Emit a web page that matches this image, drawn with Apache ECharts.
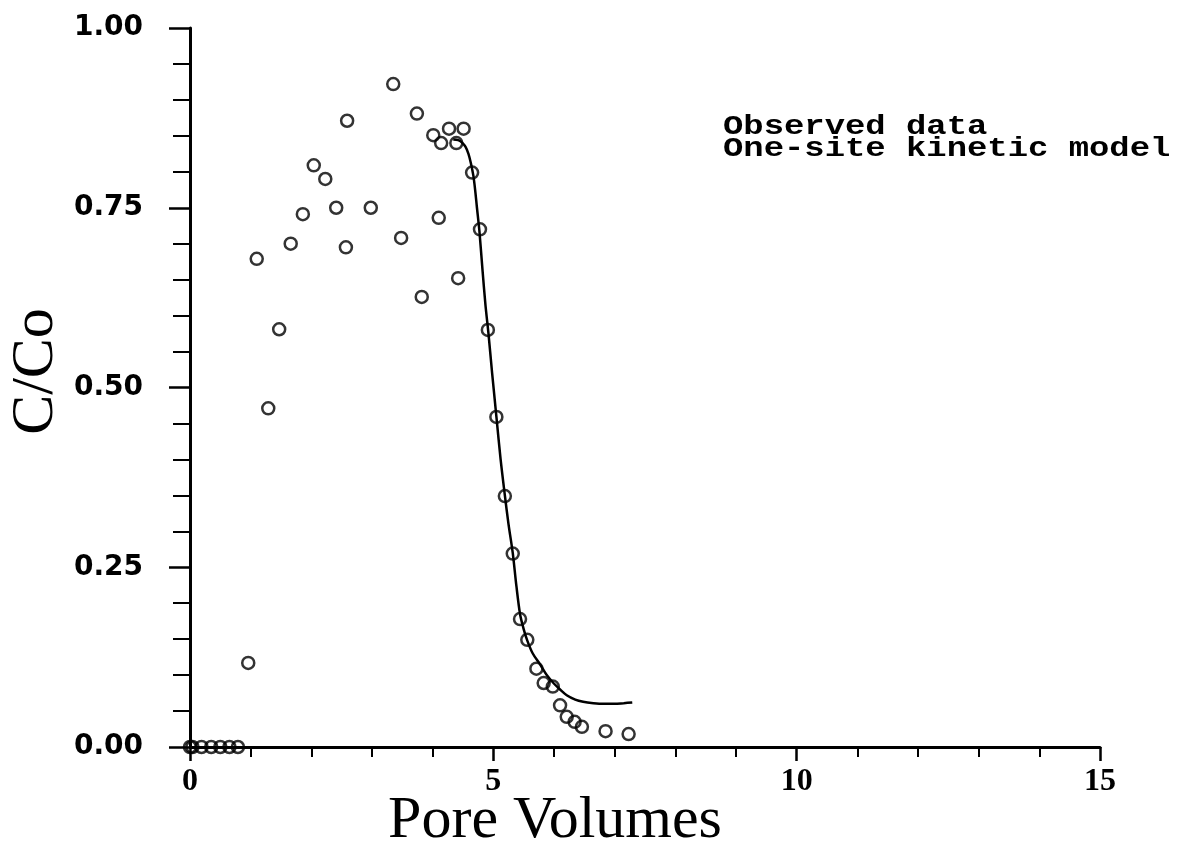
<!DOCTYPE html>
<html>
<head>
<meta charset="utf-8">
<script src="https://cdn.jsdelivr.net/npm/echarts@6/dist/echarts.min.js"></script>
<style>html,body{margin:0;padding:0;background:#fff;overflow:hidden}#c{width:1183px;height:851px}</style>
</head>
<body>
<div id="c"></div>
<script>
// Observed data: [pore volumes, C/Co]
const observedX = [0, 0.04, 0.19, 0.35, 0.50, 0.65, 0.79, 0.96, 1.10, 1.29, 1.47, 1.66, 1.86, 2.04, 2.23, 2.41, 2.57, 2.59, 2.98, 3.35, 3.48, 3.74, 3.82, 4.01, 4.10, 4.14, 4.27, 4.39, 4.42, 4.51, 4.65, 4.78, 4.91, 5.05, 5.19, 5.32, 5.44, 5.56, 5.71, 5.83, 5.98, 6.10, 6.21, 6.34, 6.46, 6.85, 7.23];
const observedY = [0, 0, 0, 0, 0, 0, 0, 0.117, 0.679, 0.471, 0.581, 0.700, 0.741, 0.809, 0.790, 0.750, 0.695, 0.871, 0.750, 0.922, 0.708, 0.881, 0.626, 0.851, 0.736, 0.840, 0.860, 0.840, 0.652, 0.860, 0.799, 0.720, 0.580, 0.459, 0.349, 0.269, 0.178, 0.149, 0.109, 0.089, 0.084, 0.058, 0.042, 0.035, 0.028, 0.022, 0.018];
// One-site kinetic model curve
const modelX = [4.34, 4.42, 4.48, 4.54, 4.59, 4.63, 4.67, 4.70, 4.73, 4.77, 4.82, 4.87, 4.92, 4.98, 5.05, 5.12, 5.19, 5.25, 5.32, 5.38, 5.44, 5.50, 5.56, 5.65, 5.77, 5.88, 5.99, 6.10, 6.21, 6.35, 6.48, 6.65, 6.81, 7.00, 7.15, 7.29];
const modelY = [0.845, 0.844, 0.841, 0.835, 0.825, 0.812, 0.795, 0.775, 0.750, 0.718, 0.665, 0.615, 0.575, 0.520, 0.460, 0.400, 0.350, 0.310, 0.270, 0.224, 0.185, 0.164, 0.148, 0.130, 0.115, 0.100, 0.089, 0.080, 0.072, 0.066, 0.063, 0.061, 0.060, 0.060, 0.061, 0.062];
const xTicks = [0, 5, 10, 15];
const yTicks = [0, 0.25, 0.5, 0.75, 1];
const seriesNames = ['Observed data', 'One-site kinetic model'];
const xTitle = 'Pore Volumes';
const yTitle = 'C/Co';

const observed = observedX.map((x, i) => [x, observedY[i]]);
const model = modelX.map((x, i) => [x, modelY[i]]);

const legendFont = 'bold 27px "Liberation Mono"';
const chart = echarts.init(document.getElementById('c'), null, {renderer: 'canvas'});
chart.setOption({
  backgroundColor: '#fff',
  animation: false,
  grid: {left: 190, right: 83, top: 28, bottom: 104, containLabel: false, outerBoundsMode: 'none'},
  // legend drawn as plain text lines (the original key has no symbols)
  graphic: seriesNames.map((name, i) => ({
    type: 'text', x: 723, y: 114 + i * 22, scaleX: 1.255,
    style: {text: name, font: legendFont, fill: '#000', textVerticalAlign: 'top'}
  })),
  xAxis: {
    type: 'value', min: xTicks[0], max: xTicks[xTicks.length - 1], interval: 5,
    name: xTitle, nameLocation: 'middle', nameGap: 44, nameMoveOverlap: false,
    nameTextStyle: {fontFamily: 'Liberation Serif', fontSize: 60, color: '#000', padding: [0, 180, 0, 0]},
    axisLine: {onZero: false, lineStyle: {color: '#000', width: 3}},
    axisTick: {inside: false, length: 14, lineStyle: {color: '#000', width: 2.5}},
    minorTick: {show: true, splitNumber: 5, length: 10, lineStyle: {color: '#000', width: 2}},
    axisLabel: {margin: 19, fontFamily: 'Liberation Serif', fontWeight: 'bold', fontSize: 32, color: '#000'},
    splitLine: {show: false}
  },
  yAxis: {
    type: 'value', min: yTicks[0], max: yTicks[yTicks.length - 1], interval: 0.25,
    name: yTitle, nameLocation: 'middle', nameGap: 124, nameRotate: 90, nameMoveOverlap: false,
    nameTextStyle: {fontFamily: 'Liberation Serif', fontSize: 60, color: '#000', padding: [0, 0, 0, 32]},
    axisLine: {onZero: false, lineStyle: {color: '#000', width: 3}},
    axisTick: {inside: false, length: 21, lineStyle: {color: '#000', width: 2.5}},
    minorTick: {show: true, splitNumber: 5, length: 17, lineStyle: {color: '#000', width: 2}},
    axisLabel: {margin: 47, fontFamily: 'DejaVu Sans', fontWeight: 'bold', fontSize: 28, color: '#000',
      formatter: v => v.toFixed(2)},
    splitLine: {show: false}
  },
  series: [
    {
      name: seriesNames[0], type: 'scatter', data: observed,
      symbol: 'circle', symbolSize: 12,
      itemStyle: {color: 'rgba(255,255,255,0)', borderColor: '#000', borderWidth: 2.5},
      z: 3
    },
    {
      name: seriesNames[1], type: 'line', data: model, smooth: 0.3,
      showSymbol: false, symbol: 'none',
      lineStyle: {color: '#000', width: 2.5},
      z: 2
    }
  ]
});
</script>
</body>
</html>
